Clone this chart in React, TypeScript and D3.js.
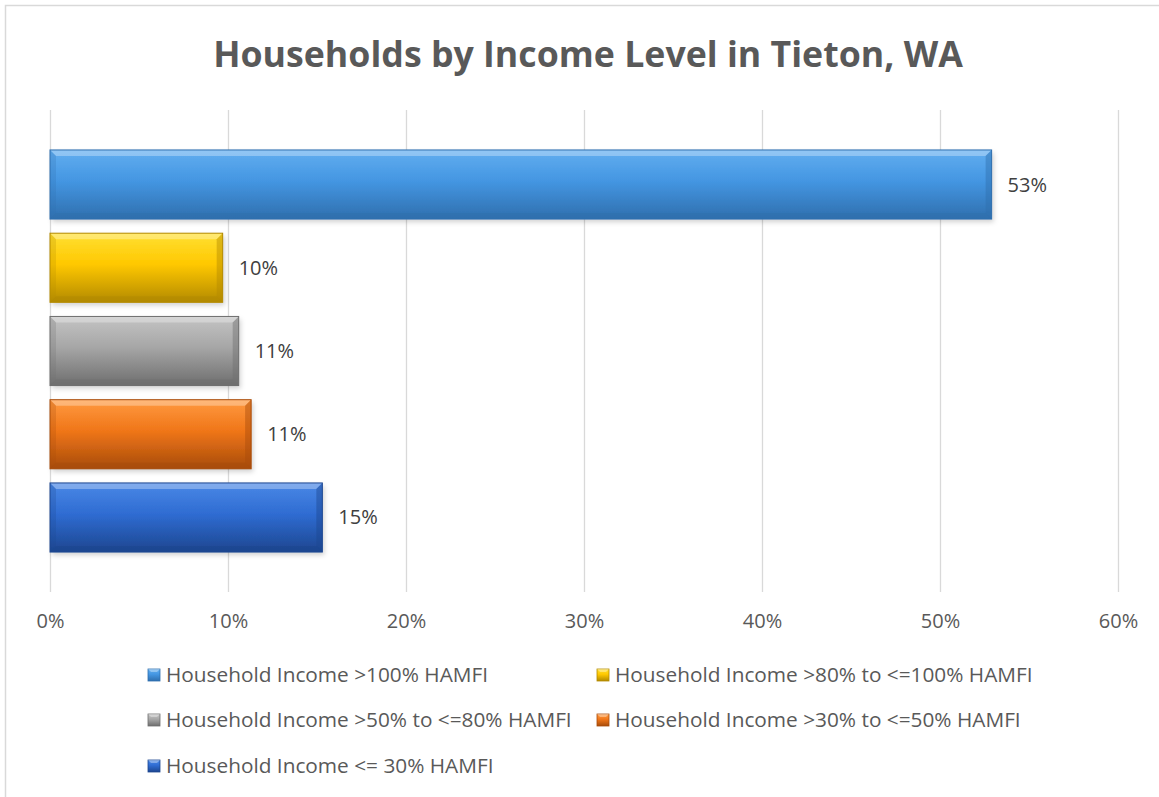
import React, { useEffect, useRef } from "react";
import { select, scaleLinear, scaleBand, axisBottom } from "d3";

const seriesNames = [
  "Household Income >100% HAMFI",
  "Household Income >80% to <=100% HAMFI",
  "Household Income >50% to <=80% HAMFI",
  "Household Income >30% to <=50% HAMFI",
  "Household Income <= 30% HAMFI",
];
const seriesValues = [0.529, 0.097, 0.106, 0.113, 0.153];
const valueLabels = ["53%", "10%", "11%", "11%", "15%"];
const xTicks = [0, 0.1, 0.2, 0.3, 0.4, 0.5, 0.6];
const seriesColors = [
  { light: "#62aef0", mid: "#4496e2", dark: "#2f6fae" },
  { light: "#ffe033", mid: "#ffc800", dark: "#b38a00" },
  { light: "#c4c4c4", mid: "#a6a6a6", dark: "#6e6e6e" },
  { light: "#ff9a40", mid: "#f07619", dark: "#a84c0a" },
  { light: "#4a88e6", mid: "#2f6cd2", dark: "#1d4690" },
];

const FONT = "'Open Sans', Lato, sans-serif";

const App = () => {
  const ref = useRef<SVGSVGElement>(null);

  useEffect(() => {
    if (!ref.current) return;
    const svg = select(ref.current);
    svg.selectAll("*").remove();

    const width = 1159;
    const height = 797;
    const plot = { left: 50, right: 1118, top: 110, bottom: 592 };

    // 차트 테두리
    svg
      .append("rect")
      .attr("x", 5.5)
      .attr("y", 5.5)
      .attr("width", width + 10)
      .attr("height", height + 10)
      .attr("fill", "#fff")
      .attr("stroke", "#d9d9d9")
      .attr("stroke-width", 1.5);

    const defs = svg.append("defs");
    seriesColors.forEach((c, i) => {
      const g = defs
        .append("linearGradient")
        .attr("id", `grad${i}`)
        .attr("x1", 0)
        .attr("y1", 0)
        .attr("x2", 0)
        .attr("y2", 1);
      g.append("stop").attr("offset", "0%").attr("stop-color", c.light);
      g.append("stop").attr("offset", "45%").attr("stop-color", c.mid);
      g.append("stop").attr("offset", "100%").attr("stop-color", c.dark);
    });
    const f = defs
      .append("filter")
      .attr("id", "shadow")
      .attr("x", "-10%")
      .attr("y", "-20%")
      .attr("width", "120%")
      .attr("height", "160%");
    f.append("feDropShadow")
      .attr("dx", 2)
      .attr("dy", 3)
      .attr("stdDeviation", 2.5)
      .attr("flood-color", "#000")
      .attr("flood-opacity", 0.18);

    // 제목
    svg
      .append("text")
      .attr("x", 588)
      .attr("y", 67)
      .attr("text-anchor", "middle")
      .attr("font-family", FONT)
      .attr("font-weight", "bold")
      .attr("font-size", 35.7)
      .attr("fill", "#595959")
      .text("Households by Income Level in Tieton, WA");

    // 스케일
    const x = scaleLinear().domain([0, 0.6]).range([plot.left, plot.right]);
    const y = scaleBand<string>()
      .domain(seriesNames)
      .range([plot.top, plot.bottom])
      .paddingInner(0.17)
      .paddingOuter(0.48);

    // 그리드 + 축
    const axis = svg
      .append("g")
      .attr("transform", `translate(0,${plot.bottom})`)
      .call(
        axisBottom(x)
          .tickValues(xTicks)
          .tickSize(-(plot.bottom - plot.top))
          .tickPadding(22)
          .tickFormat((d) => `${Math.round(+d * 100)}%`)
      );
    axis.select(".domain").remove();
    axis.selectAll(".tick line").attr("stroke", "#d9d9d9").attr("stroke-width", 1.3);
    axis
      .selectAll(".tick text")
      .attr("font-family", FONT)
      .attr("font-size", 20)
      .attr("fill", "#595959");

    // 막대
    const bars = svg
      .append("g")
      .selectAll("g")
      .data(seriesNames)
      .enter()
      .append("g");

    bars.each(function (name, i) {
      const g = select(this);
      const x0 = x(0);
      const x1 = x(seriesValues[i]);
      const y0 = y(name) || 0;
      const h = y.bandwidth();
      const b = 6;
      const c = seriesColors[i];
      g.append("rect")
        .attr("x", x0)
        .attr("y", y0)
        .attr("width", x1 - x0)
        .attr("height", h)
        .attr("fill", `url(#grad${i})`)
        .attr("filter", "url(#shadow)");
      // bevel edges
      g.append("polygon")
        .attr("points", `${x0},${y0} ${x1},${y0} ${x1 - b},${y0 + b} ${x0 + b},${y0 + b}`)
        .attr("fill", "#fff")
        .attr("opacity", 0.3);
      g.append("polygon")
        .attr("points", `${x0},${y0 + h} ${x1},${y0 + h} ${x1 - b},${y0 + h - b} ${x0 + b},${y0 + h - b}`)
        .attr("fill", c.dark)
        .attr("opacity", 0.6);
      g.append("polygon")
        .attr("points", `${x1},${y0} ${x1},${y0 + h} ${x1 - b},${y0 + h - b} ${x1 - b},${y0 + b}`)
        .attr("fill", c.dark)
        .attr("opacity", 0.45);
      g.append("polygon")
        .attr("points", `${x0},${y0} ${x0},${y0 + h} ${x0 + b},${y0 + h - b} ${x0 + b},${y0 + b}`)
        .attr("fill", c.dark)
        .attr("opacity", 0.25);
      g.append("rect")
        .attr("x", x0)
        .attr("y", y0)
        .attr("width", x1 - x0)
        .attr("height", h)
        .attr("fill", "none")
        .attr("stroke", c.dark)
        .attr("stroke-width", 1);
      g.append("text")
        .attr("x", x1 + 16)
        .attr("y", y0 + h / 2)
        .attr("dy", "0.35em")
        .attr("font-family", FONT)
        .attr("font-size", 20)
        .attr("fill", "#404040")
        .text(valueLabels[i]);
    });

    // 범례
    const legendPos = [
      [148, 675],
      [597, 675],
      [148, 720],
      [597, 720],
      [148, 766],
    ];
    seriesNames.forEach((name, i) => {
      const [lx, ly] = legendPos[i];
      const c = seriesColors[i];
      const s = 12;
      const g = svg.append("g");
      g.append("rect")
        .attr("x", lx)
        .attr("y", ly - s / 2)
        .attr("width", s)
        .attr("height", s)
        .attr("fill", `url(#grad${i})`)
        .attr("stroke", c.dark)
        .attr("stroke-width", 0.8);
      g.append("polygon")
        .attr("points", `${lx},${ly - s / 2} ${lx + s},${ly - s / 2} ${lx + s - 3},${ly - s / 2 + 3} ${lx + 3},${ly - s / 2 + 3}`)
        .attr("fill", "#fff")
        .attr("opacity", 0.35);
      g.append("text")
        .attr("x", lx + 18)
        .attr("y", ly)
        .attr("dy", "0.35em")
        .attr("font-family", FONT)
        .attr("font-size", 20.8)
        .attr("fill", "#595959")
        .text(name);
    });
  }, []);

  return (
    <svg
      ref={ref}
      width={1159}
      height={797}
      style={{ position: "absolute", left: 0, top: 0, background: "#fff" }}
    ></svg>
  );
};

export default App;
